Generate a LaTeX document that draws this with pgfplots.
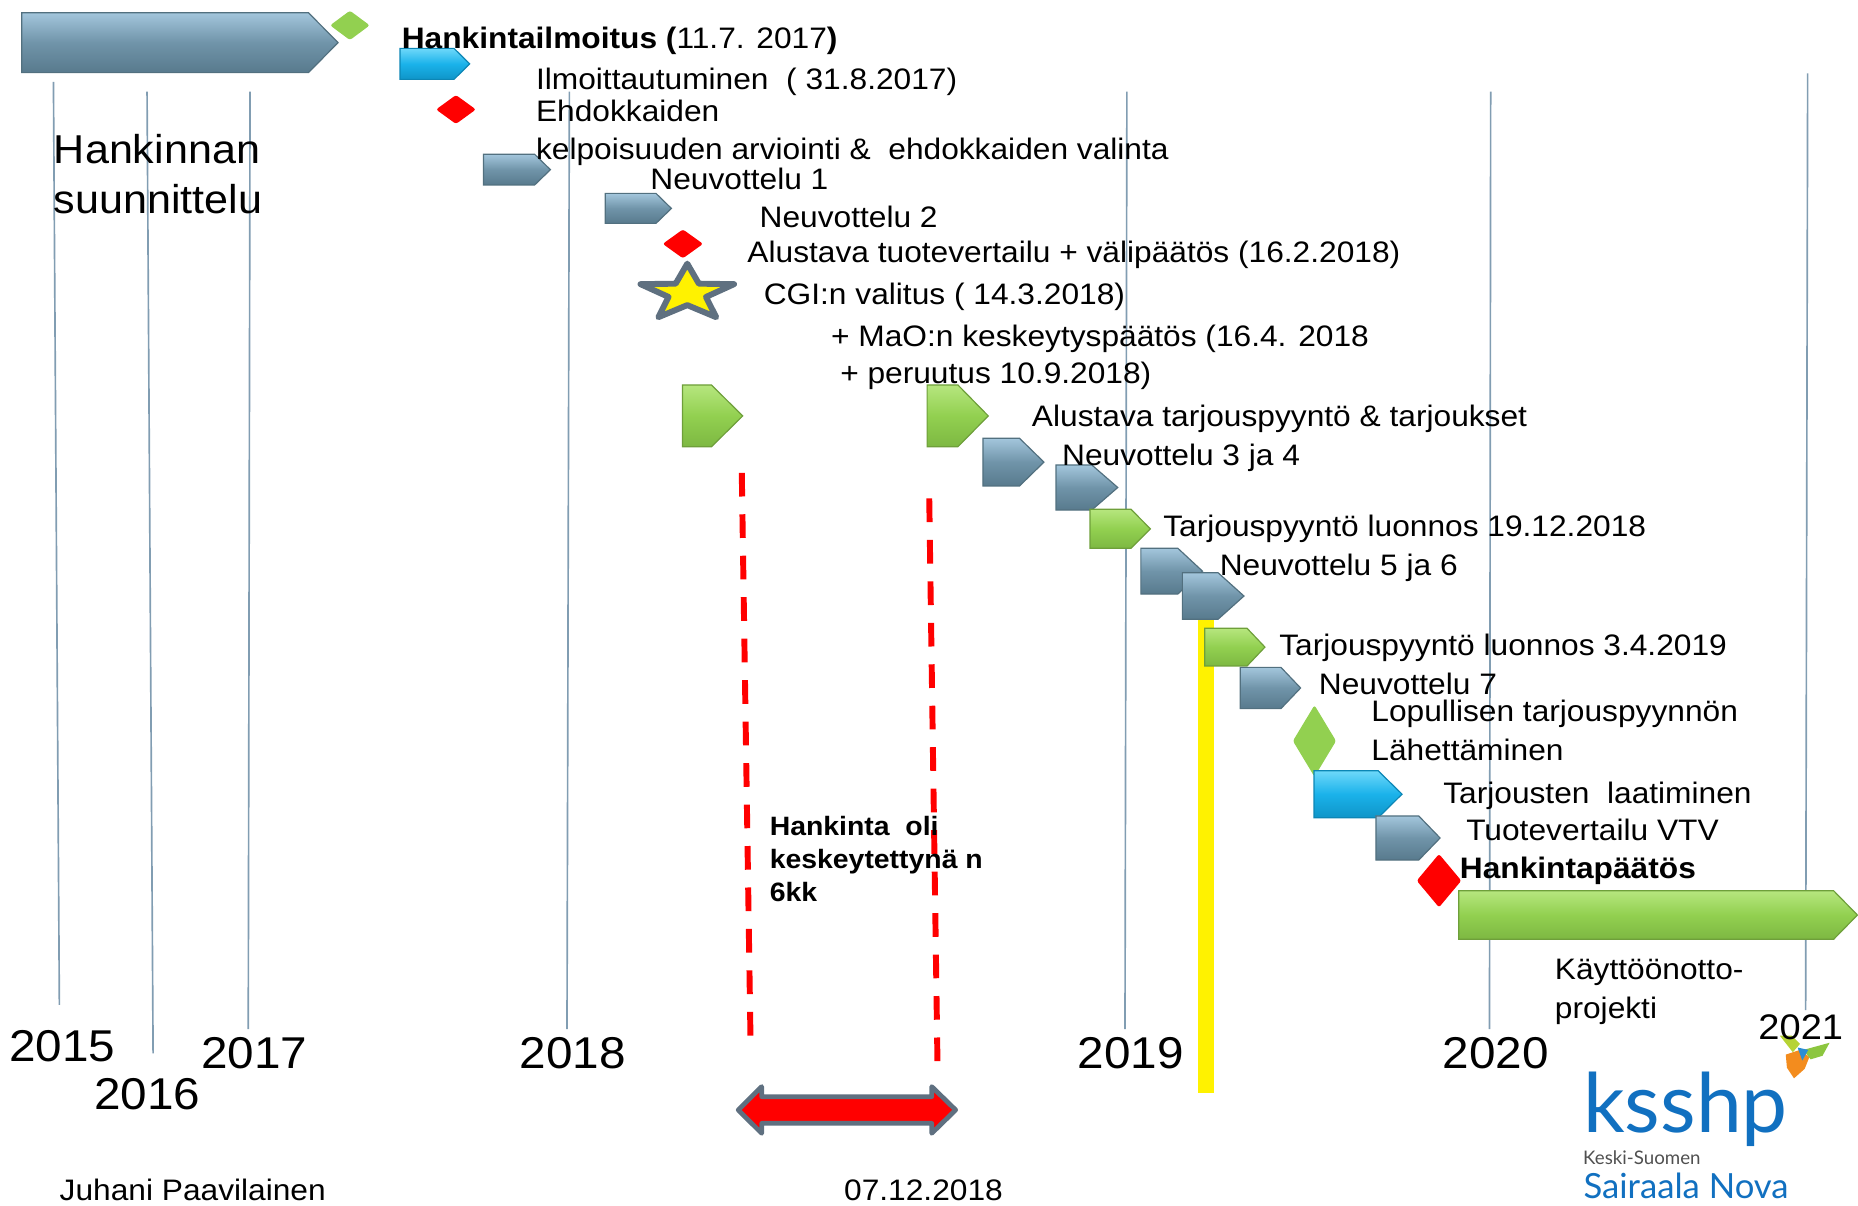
\documentclass[border=0pt]{standalone}
\usepackage{pgfplots}
\pgfplotsset{compat=1.18}
\usepackage{graphicx}
\usepackage{fontspec}
\setmainfont{Liberation Sans}[FakeStretch=1.07]
\newfontfamily\logofont{Lato}
\definecolor{gL}{HTML}{A3C6DC}
\definecolor{gM}{HTML}{7094A9}
\definecolor{gD}{HTML}{587A8D}
\definecolor{gB}{HTML}{52707F}
\definecolor{nL}{HTML}{B6E67E}
\definecolor{nM}{HTML}{92D050}
\definecolor{nD}{HTML}{7DB842}
\definecolor{nB}{HTML}{6E9F3A}
\definecolor{bL}{HTML}{6ED8FA}
\definecolor{bM}{HTML}{1AB2EA}
\definecolor{bD}{HTML}{0F95C8}
\definecolor{bB}{HTML}{0C86B5}
\definecolor{vline}{HTML}{819DB2}
\definecolor{brd}{HTML}{5F7080}
\definecolor{logoblue}{HTML}{1170C0}
\definecolor{logogray}{HTML}{505050}
\tikzset{
 garr/.style={draw=gB, line width=0.5pt, top color=gL, bottom color=gD, middle color=gM},
 narr/.style={draw=nB, line width=0.5pt, top color=nL, bottom color=nD, middle color=nM},
 barr/.style={draw=bB, line width=0.5pt, top color=bL, bottom color=bD, middle color=bM},
 txt/.style={anchor=base west, inner sep=0pt, font=\fontsize{12.5}{15}\selectfont},
 yr/.style={anchor=base west, inner sep=0pt, font=\fontsize{18.8}{22}\selectfont},
}
% x1 xs x2 yt ym yb style
\newcommand{\pent}[7]{\addplot[#7] coordinates {(#1,#4) (#2,#4) (#3,#5) (#2,#6) (#1,#6)} -- cycle;}
\begin{document}
\begin{tikzpicture}
\begin{axis}[name=ax, width=784pt, height=508.5pt, scale only axis,
 xmin=0, xmax=1568, ymin=0, ymax=1017, y dir=reverse, hide axis, clip=false]
% vertical year lines
\addplot[vline, line width=0.7pt] coordinates {(45.1,69) (50.1,848)};
\addplot[vline, line width=0.7pt] coordinates {(124.1,77.4) (129.2,888.9)};
\addplot[vline, line width=0.7pt] coordinates {(211,77.4) (209.5,868.4)};
\addplot[vline, line width=0.7pt] coordinates {(480.5,77.4) (478.5,868.4)};
\addplot[vline, line width=0.7pt] coordinates {(951,77.4) (949.4,868.4)};
\addplot[vline, line width=0.7pt] coordinates {(1258,77.4) (1257,868.4)};
\addplot[vline, line width=0.7pt] coordinates {(1525.5,62) (1523.8,852.4)};
% yellow bar
\addplot[draw=none, fill=yellow] coordinates {(1011,522) (1024.3,522) (1024.3,922) (1011,922)} -- cycle;
% red dashed lines
\addplot[red, line width=2.5pt, dash pattern=on 10pt off 7.5pt] coordinates {(626,399) (633.5,886)};
\addplot[red, line width=2.5pt, dash pattern=on 10pt off 7.5pt] coordinates {(784.2,420.6) (791.3,907)};
% diamonds
\addplot[fill=nM, draw=none, rounded corners=1pt] coordinates {(278.6,21.4) (295.3,9) (312,21.4) (295.3,33.8)} -- cycle;
\addplot[fill=red, draw=none, rounded corners=1pt] coordinates {(368,92.4) (384.8,80.2) (401.6,92.4) (384.8,104.6)} -- cycle;
\addplot[fill=red, draw=none, rounded corners=1pt] coordinates {(559.3,205.8) (576.3,193.6) (593.3,205.8) (576.3,218)} -- cycle;
\addplot[fill=nM, draw=none, rounded corners=1pt] coordinates {(1091.1,625.3) (1109.3,595.1) (1127.5,625.3) (1109.3,655.5)} -- cycle;
\addplot[fill=red, draw=none, rounded corners=1pt] coordinates {(1195.6,743.2) (1214.4,720.7) (1233.2,743.2) (1214.4,765.7)} -- cycle;
% arrows
\pent{18.3}{260.3}{285.3}{10.7}{36}{61.3}{garr}
\pent{337.6}{383.1}{396.4}{40.8}{53.9}{67}{barr}
\pent{408.1}{451.2}{464.5}{130.2}{143.2}{156.1}{garr}
\pent{510.7}{553.6}{566.6}{163.2}{175.9}{188.5}{garr}
\pent{575.9}{600.4}{626.8}{324.9}{351}{377}{narr}
\pent{782.4}{808.4}{834}{324.9}{351}{377}{narr}
\pent{829.5}{860.4}{881}{369.9}{390}{410.1}{garr}
\pent{891.2}{921.4}{943.3}{392.4}{411.4}{430.4}{garr}
\pent{919.9}{954.5}{970.8}{429.8}{446.3}{462.7}{narr}
\pent{962.8}{994}{1014.8}{462.7}{482}{501.3}{garr}
\pent{997.8}{1027.9}{1049.8}{483.3}{503}{522.6}{garr}
\pent{1016.7}{1052.4}{1067.5}{530.2}{546.1}{562}{narr}
\pent{1046.6}{1081}{1097.6}{563.2}{580.6}{598}{garr}
\pent{1108.9}{1163}{1183.2}{650.4}{670.2}{690.1}{barr}
\pent{1161.2}{1197.3}{1215.3}{688.6}{707.2}{725.8}{garr}
\pent{1231}{1547.4}{1567.5}{751.7}{772.2}{792.7}{narr}
% star
\addplot[fill=yellow, draw=brd, line width=2.5pt, line join=round] coordinates {(580,222.5) (570.2,239.4) (540.5,239.8) (564.2,250.6) (555.6,267.7) (580,257.5) (604.4,267.7) (595.8,250.6) (619.5,239.8) (589.8,239.4)} -- cycle;
% double arrow
\addplot[fill=red, draw=brd, line width=2pt, line join=round] coordinates {(623,936.7) (642.8,917) (642.8,925.5) (786.3,925.5) (786.3,917) (806.5,936.7) (786.3,956.4) (786.3,948) (642.8,948) (642.8,956.4)} -- cycle;
% butterfly
\addplot[fill={rgb,255:red,182;green,211;blue,52}, draw=none] coordinates {(1502,874) (1512,874) (1519,881) (1513,888)} -- cycle;
\addplot[fill={rgb,255:red,243;green,140;blue,30}, draw=none] coordinates {(1507,890) (1519,886) (1527,892) (1523,902) (1514,910) (1508,901)} -- cycle;
\addplot[fill={rgb,255:red,140;green,198;blue,63}, draw=none] coordinates {(1522,886) (1544,880) (1538,891) (1528,894)} -- cycle;
\addplot[fill={rgb,255:red,42;green,141;blue,212}, draw=none] coordinates {(1517,884) (1526,886) (1521,895)} -- cycle;
% texts
\node[txt] at (axis cs:338.7,41) {\textbf{Hankintailmoitus (}11.7. 2017\textbf{)}};
\node[txt] at (axis cs:452,75.5) {Ilmoittautuminen\ \ ( 31.8.2017)};
\node[txt] at (axis cs:452,102.7) {Ehdokkaiden};
\node[txt] at (axis cs:452,134.5) {kelpoisuuden arviointi \&\ \ ehdokkaiden valinta};
\node[txt] at (axis cs:548.5,159.8) {Neuvottelu 1};
\node[txt] at (axis cs:640.7,192.1) {Neuvottelu 2};
\node[txt] at (axis cs:630.4,221.7) {Alustava tuotevertailu + välipäätös (16.2.2018)};
\node[txt] at (axis cs:644.2,256.8) {CGI:n valitus ( 14.3.2018)};
\node[txt] at (axis cs:701,292) {+ MaO:n keskeytyspäätös (16.4. 2018};
\node[txt] at (axis cs:708.7,323.5) {+ peruutus 10.9.2018)};
\node[txt] at (axis cs:870.5,360) {Alustava tarjouspyyntö \& tarjoukset};
\node[txt] at (axis cs:896,393) {Neuvottelu 3 ja 4};
\node[txt] at (axis cs:981.3,452.9) {Tarjouspyyntö luonnos 19.12.2018};
\node[txt] at (axis cs:1029,485.3) {Neuvottelu 5 ja 6};
\node[txt] at (axis cs:1079.2,552.8) {Tarjouspyyntö luonnos 3.4.2019};
\node[txt] at (axis cs:1112.7,586) {Neuvottelu 7};
\node[txt] at (axis cs:1157,609) {Lopullisen tarjouspyynnön};
\node[txt] at (axis cs:1157,641.4) {Lähettäminen};
\node[txt] at (axis cs:1217.6,678) {Tarjousten\ \ laatiminen};
\node[txt] at (axis cs:1237,709) {Tuotevertailu VTV};
\node[txt] at (axis cs:1231.6,741.2) {\textbf{Hankintapäätös}};
\node[txt] at (axis cs:1311.8,827) {Käyttöönotto-};
\node[txt] at (axis cs:1311.8,859.5) {projekti};
\node[txt, font=\fontsize{17}{20}\selectfont] at (axis cs:45.1,137.8) {Hankinnan};
\node[txt, font=\fontsize{17}{20}\selectfont] at (axis cs:45.1,180) {suunnittelu};
\node[txt, font=\fontsize{11.2}{14}\selectfont\bfseries] at (axis cs:649.2,704.7) {Hankinta\ \ oli};
\node[txt, font=\fontsize{11.2}{14}\selectfont\bfseries] at (axis cs:649.2,732.8) {keskeytettynä n};
\node[txt, font=\fontsize{11.2}{14}\selectfont\bfseries] at (axis cs:649.2,761) {6kk};
\node[txt] at (axis cs:50,1012.7) {Juhani Paavilainen};
\node[txt] at (axis cs:712,1012.7) {07.12.2018};
\node[yr] at (axis cs:7.5,896) {2015};
\node[yr] at (axis cs:79.1,936.2) {2016};
\node[yr] at (axis cs:169.6,901.6) {2017};
\node[yr] at (axis cs:438.2,901.6) {2018};
\node[yr] at (axis cs:909,901.6) {2019};
\node[yr] at (axis cs:1217,901.6) {2020};
\node[yr, font=\fontsize{15}{18}\selectfont] at (axis cs:1483.6,877) {2021};
% logo
\node[anchor=base west, inner sep=0pt, text=logoblue] at (axis cs:1335.7,955.9) {\resizebox{86.4pt}{!}{\logofont ksshp}};
\node[anchor=base west, inner sep=0pt, text=logogray] at (axis cs:1335.7,982.6) {\resizebox{49.5pt}{!}{\logofont Keski-Suomen}};
\node[anchor=base west, inner sep=0pt, text=logoblue] at (axis cs:1336,1011.3) {\resizebox{86.5pt}{!}{\logofont Sairaala Nova}};
\end{axis}
\pgfresetboundingbox
\path (ax.south west) rectangle (ax.north east);
\end{tikzpicture}
\end{document}
